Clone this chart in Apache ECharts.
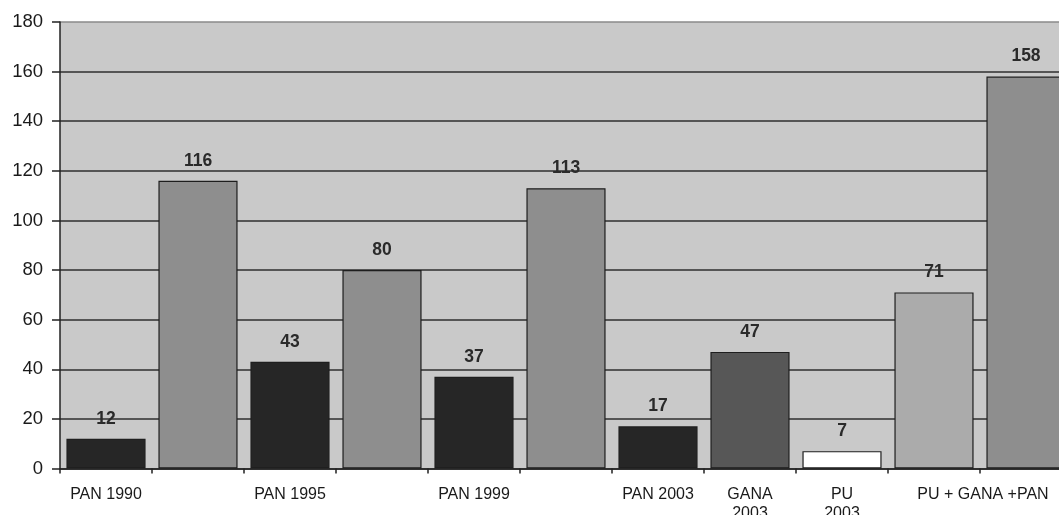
<!DOCTYPE html>
<html>
<head>
<meta charset="utf-8">
<script src="https://cdn.jsdelivr.net/npm/echarts@6/dist/echarts.min.js"></script>
<style>
html,body{margin:0;padding:0;background:#fff;}
#chart{width:1059px;height:515px;}
</style>
</head>
<body>
<div id="chart"></div>
<script>
// ---- data ----
var categories = ['c1','c2','c3','c4','c5','c6','c7','c8','c9','c10','c11'];
var tickLabels = ['PAN 1990','','PAN 1995','','PAN 1999','','PAN 2003','GANA\n2003','PU\n2003','PU + GANA +PAN',''];
var values = [12,116,43,80,37,113,17,47,7,71,158];
var yTicks = [0,20,40,60,80,100,120,140,160,180];

// ---- styles ----
var barColors = ['#262626','#8e8e8e','#262626','#8e8e8e','#262626','#8e8e8e','#262626','#575757','#ffffff','#ababab','#8e8e8e'];
var FONT = 'Liberation Sans, Arial, sans-serif';

var chart = echarts.init(document.getElementById('chart'), null, {renderer:'canvas'});
var gridColors = yTicks.map(function(t, i){ return i === yTicks.length - 1 ? '#8a8a8a' : '#2e2e2e'; });

chart.setOption({
  animation: false,
  backgroundColor: '#ffffff',
  grid: {
    left: 60, top: 22, right: -13, bottom: 46.5,
    outerBoundsMode: 'none',
    containLabel: false,
    show: true, backgroundColor: '#c9c9c9', borderWidth: 0
  },
  xAxis: {
    type: 'category',
    data: categories,
    axisLine: {show: true, lineStyle: {color: '#222', width: 1.5}},
    axisTick: {show: true, length: 5, lineStyle: {color: '#222', width: 1.5}},
    axisLabel: {
      interval: 0,
      margin: 17,
      fontFamily: FONT,
      fontSize: 16,
      lineHeight: 19,
      color: '#1a1a1a',
      hideOverlap: false,
      formatter: function(v, i){
        var t = tickLabels[i];
        if (i === 9) return '{s|' + t + '}';
        return t;
      },
      rich: {
        s: {padding: [0, 0, 0, 98], fontFamily: FONT, fontSize: 16, color: '#1a1a1a', lineHeight: 19}
      }
    }
  },
  yAxis: {
    type: 'value',
    min: 0, max: 180, interval: 20,
    axisLine: {show: true, lineStyle: {color: '#222', width: 1.5}},
    axisTick: {show: true, length: 8, lineStyle: {color: '#222', width: 1.5}},
    axisLabel: {margin: 17, fontFamily: FONT, fontSize: 18.5, color: '#1a1a1a'},
    splitLine: {show: true, lineStyle: {color: gridColors, width: 1.6}}
  },
  series: [{
    type: 'bar',
    barCategoryGap: '14%',
    data: values.map(function(v, i){
      return {value: v, itemStyle: {color: barColors[i]}};
    }),
    itemStyle: {borderColor: '#1e1e1e', borderWidth: 1.2},
    label: {
      show: true,
      position: 'top',
      distance: 11,
      fontFamily: FONT,
      fontSize: 17.5,
      fontWeight: 'bold',
      color: '#2a2a2a'
    }
  }]
});
</script>
</body>
</html>
